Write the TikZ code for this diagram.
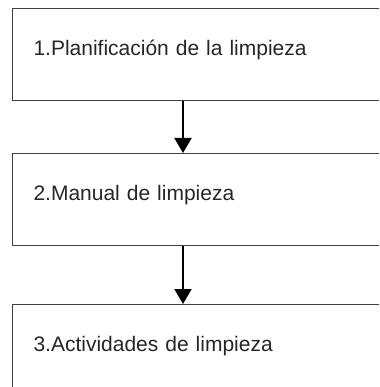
\documentclass[tikz,border=0pt]{standalone}
\usepackage{fontspec}
\setmainfont{Liberation Sans}
\usetikzlibrary{positioning,arrows.meta}

\begin{document}
\begin{tikzpicture}[x=1pt,y=-1pt,
    stagebox/.style={draw=black!75, line width=1pt, anchor=north west,
      minimum width=400pt, text width=358pt, align=left,
      inner xsep=21pt, inner ysep=0pt, text height=47pt, text depth=45pt,
      font=\fontsize{21}{25}\selectfont, text=black!85},
    flow/.style={line width=2pt, -{Triangle[width=17pt,length=15pt]}}]
	%% page size
	\def\W{379}
	\def\H{387}
	\def\ax{171} % arrow offset from the left side
	
	\useasboundingbox (0,0) rectangle (\W,\H);
	\clip (0,0) rectangle (\W,\H);
	
	\node[stagebox] (plan) at (12,8) {1.Planificación de la limpieza};
	\node[stagebox, below=52pt of plan] (manual) {2.Manual de limpieza};
	\node[stagebox, below=58pt of manual] (activ) {3.Actividades de limpieza};
	
	\draw[flow] ([xshift=\ax pt]plan.south west) -- ([xshift=\ax pt]manual.north west);
	\draw[flow] ([xshift=\ax pt]manual.south west) -- ([xshift=\ax pt]activ.north west);
\end{tikzpicture}
\end{document}
